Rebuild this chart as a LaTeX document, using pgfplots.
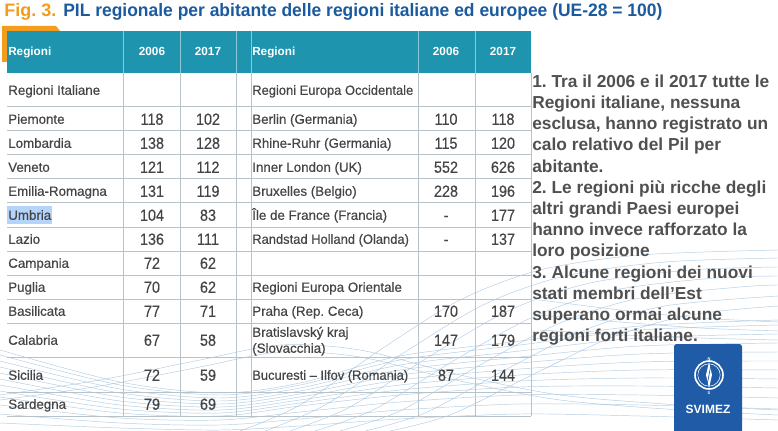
\documentclass[border=0pt]{standalone}
\usepackage{pgfplots}
\pgfplotsset{compat=1.18}
\usepackage{pgfplotstable}
\usepackage{fontspec}
\setmainfont{Liberation Sans}
\newfontfamily\medfont[FakeBold=0.45]{Liberation Sans}
\frenchspacing
\definecolor{titleblue}{HTML}{1B5A9E}
\definecolor{figorange}{HTML}{F39C1E}
\definecolor{hdrteal}{HTML}{1E94AE}
\definecolor{hdrline}{HTML}{8CC8D6}
\definecolor{gridc}{HTML}{B7C2C9}
\definecolor{txt}{HTML}{454545}
\definecolor{notegray}{HTML}{505050}
\definecolor{logoblue}{HTML}{1F5BA6}
\definecolor{hilite}{HTML}{B4D4FB}
\definecolor{wavec}{HTML}{9FBFDB}

% Italian regions: row centre (px), 2006, 2017
\pgfplotstableread{
y  a   b
119 118 102
143 138 128
167 121 112
191 131 119
215 104 83
239 136 111
263 72  62
287 70  62
311 77  71
340 67  58
375 72  59
404 79  69
}\itadata
% European regions: row centre (px), 2006, 2017
\pgfplotstableread{
y  a   b
119 110 118
143 115 120
167 552 626
191 228 196
215 -   177
239 -   137
311 170 187
340 147 179
375 87  144
}\eudata

\begin{document}
\begin{tikzpicture}
\begin{axis}[
  width=583.5pt, height=323.25pt, scale only axis,
  xmin=0, xmax=778, ymin=0, ymax=431, y dir=reverse,
  axis lines=none, clip=true,
  numcol/.style={draw=none, mark=none, point meta=explicit symbolic,
    nodes near coords={\scalebox{1}[1.12]{\pgfplotspointmeta}},
    every node near coord/.style={anchor=center, inner sep=0pt, text height=8.66pt, text depth=0pt, text=txt, font=\medfont\fontsize{10.8}{12}\selectfont}},
  wave/.style={wavec, line width=0.35pt, opacity=0.8, smooth, mark=none, forget plot},
]
% background waves
\addplot[wave] coordinates {(0,350) (120,382) (220,393) (300,383) (400,356) (520,341) (640,326) (778,320)};
\addplot[wave] coordinates {(0,355) (120,385) (220,395) (300,385) (400,360) (520,345) (640,330) (778,325)};
\addplot[wave] coordinates {(0,361) (120,389) (220,398) (300,388) (400,365) (520,351) (640,338) (778,334)};
\addplot[wave] coordinates {(0,367) (120,393) (220,401) (300,391) (400,370) (520,357) (640,346) (778,343)};
\addplot[wave] coordinates {(0,373) (120,397) (220,404) (300,394) (400,375) (520,363) (640,354) (778,352)};
\addplot[wave] coordinates {(0,379) (120,401) (220,407) (300,397) (400,380) (520,369) (640,362) (778,361)};
\addplot[wave] coordinates {(0,385) (120,405) (220,410) (300,400) (400,385) (520,375) (640,370) (778,370)};
\addplot[wave] coordinates {(0,391) (120,409) (220,413) (300,403) (400,390) (520,381) (640,378) (778,379)};
\addplot[wave] coordinates {(0,397) (120,413) (220,416) (300,406) (400,395) (520,387) (640,386) (778,388)};
\addplot[wave] coordinates {(0,405) (120,418) (220,420) (300,412) (400,402) (520,395) (640,395) (778,398)};
\addplot[wave] coordinates {(0,414) (120,423) (220,425) (300,419) (400,410) (520,404) (640,405) (778,409)};
\addplot[wave] coordinates {(0,423) (120,428) (220,430) (300,426) (400,419) (520,414) (640,416) (778,420)};
\addplot[wave] coordinates {(0,395) (100,380) (200,360) (280,345) (360,350) (460,375) (560,395) (680,405) (778,410)};
\addplot[wave] coordinates {(0,400) (100,386) (200,367) (280,352) (360,357) (460,381) (560,400) (680,410) (778,415)};
\addplot[wave] coordinates {(240,431) (300,405) (380,350) (460,300) (540,270) (640,255) (778,250)};
\addplot[wave] coordinates {(265,431) (325,405) (405,352) (485,304) (565,276) (665,262) (778,258)};
\addplot[wave] coordinates {(290,431) (350,407) (430,356) (510,310) (590,283) (690,270) (778,267)};
\addplot[wave] coordinates {(315,431) (375,409) (455,360) (535,316) (615,290) (715,278) (778,276)};
\addplot[wave] coordinates {(340,431) (400,411) (480,365) (560,323) (640,298) (740,287) (778,285)};
\addplot[wave] coordinates {(365,431) (425,413) (505,370) (585,330) (665,306) (778,296)};
\addplot[wave] coordinates {(390,431) (450,415) (530,376) (610,338) (690,315) (778,306)};
\addplot[wave] coordinates {(540,300) (620,310) (700,318) (778,322)};
\addplot[wave] coordinates {(540,315) (620,322) (700,328) (778,331)};
\addplot[wave] coordinates {(540,330) (620,335) (700,338) (778,340)};

% header
\fill[figorange] (axis cs:2,26) -- (axis cs:56,26) -- (axis cs:60,31) -- (axis cs:60,62) -- (axis cs:2,62) -- cycle;
\fill[hdrteal] (axis cs:7,31) rectangle (axis cs:531,73);
\pgfplotsinvokeforeach{123,180,236,251,418,475}{
  \draw[hdrline, line width=0.75pt] (axis cs:#1,31) -- (axis cs:#1,73);
}
% Umbria highlight
\fill[hilite] (axis cs:7,206) rectangle (axis cs:52,224);
% grid
\pgfplotsinvokeforeach{123,180,236,251,418,475,531}{
  \draw[gridc, line width=0.75pt] (axis cs:#1,73) -- (axis cs:#1,416);
}
\pgfplotsinvokeforeach{107,131,155,179,203,227,251,275,299,323,357,392,416}{
  \draw[gridc, line width=0.75pt] (axis cs:7,#1) -- (axis cs:531,#1);
}

% title
\node[anchor=base west, inner sep=0pt, text=figorange, font=\fontsize{13.5}{15}\selectfont\bfseries] at (axis cs:4,17) {Fig. 3.};
\node[anchor=base west, inner sep=0pt, text=titleblue, font=\fontsize{13.5}{15}\selectfont\bfseries] at (axis cs:63,17) {\scalebox{0.97}[1]{PIL regionale per abitante delle regioni italiane ed europee (UE-28 = 100)}};

% header labels
\begin{scope}[every node/.style={inner sep=0pt, text=white, font=\fontsize{8.8}{10}\selectfont\bfseries}]
\node[anchor=base west] at (axis cs:8,56) {Regioni};
\node[anchor=base] at (axis cs:152,56) {2006};
\node[anchor=base] at (axis cs:208,56) {2017};
\node[anchor=base west] at (axis cs:252,56) {Regioni};
\node[anchor=base] at (axis cs:446,56) {2006};
\node[anchor=base] at (axis cs:503,56) {2017};
\end{scope}

% region names
\begin{scope}[every node/.style={anchor=base west, inner sep=0pt, text=txt, font=\medfont\fontsize{10}{11.6}\selectfont}]
\node at (axis cs:8,94.8) {Regioni Italiane};
\node at (axis cs:8,123.8) {Piemonte};
\node at (axis cs:8,147.8) {Lombardia};
\node at (axis cs:8,171.8) {Veneto};
\node at (axis cs:8,195.8) {Emilia-Romagna};
\node at (axis cs:8,219.8) {Umbria};
\node at (axis cs:8,243.8) {Lazio};
\node at (axis cs:8,267.8) {Campania};
\node at (axis cs:8,291.8) {Puglia};
\node at (axis cs:8,315.8) {Basilicata};
\node at (axis cs:8,344.8) {Calabria};
\node at (axis cs:8,379.8) {Sicilia};
\node at (axis cs:8,408.8) {Sardegna};
\node at (axis cs:252,94.8) {\scalebox{0.97}[1]{Regioni Europa Occidentale}};
\node at (axis cs:252,123.8) {Berlin (Germania)};
\node at (axis cs:252,147.8) {Rhine-Ruhr (Germania)};
\node at (axis cs:252,171.8) {Inner London (UK)};
\node at (axis cs:252,195.8) {Bruxelles (Belgio)};
\node at (axis cs:252,219.8) {Île de France (Francia)};
\node at (axis cs:252,243.8) {\scalebox{0.97}[1]{Randstad Holland (Olanda)}};
\node at (axis cs:252,291.8) {Regioni Europa Orientale};
\node at (axis cs:252,315.8) {Praha (Rep. Ceca)};
\node at (axis cs:252,336.8) {Bratislavský kraj};
\node at (axis cs:252,352.8) {(Slovacchia)};
\node at (axis cs:252,379.8) {\scalebox{0.97}[1]{Bucuresti – Ilfov (Romania)}};
\end{scope}

% values
\addplot[numcol] table[x expr=152, y=y, meta=a] {\itadata};
\addplot[numcol] table[x expr=208, y=y, meta=b] {\itadata};
\addplot[numcol] table[x expr=446, y=y, meta=a] {\eudata};
\addplot[numcol] table[x expr=503, y=y, meta=b] {\eudata};

% side note
\node[anchor=north west, inner sep=0pt, align=left, text=notegray, font=\fontsize{13}{15.9}\selectfont\bfseries] at (axis cs:532,74.4)
{1. Tra il 2006 e il 2017 tutte le\\Regioni italiane, nessuna\\esclusa, hanno registrato un\\calo relativo del Pil per\\abitante.\\2. Le regioni più ricche degli\\altri grandi Paesi europei\\hanno invece rafforzato la\\loro posizione\\3. Alcune regioni dei nuovi\\stati membri dell’Est\\superano ormai alcune\\regioni forti italiane.};

% logo
\fill[logoblue, rounded corners=2pt] (axis cs:674,344) rectangle (axis cs:742,440);
\draw[white, line width=1.2pt] (axis cs:709,375) circle[radius=10.5pt];
\draw[white, line width=0.4pt] (axis cs:709,375) circle[radius=8.4pt];
\fill[white] (axis cs:709,362) -- (axis cs:712,375) -- (axis cs:709,388) -- (axis cs:706,375) -- cycle;
\draw[logoblue, line width=0.5pt] (axis cs:710.5,367) -- (axis cs:707.5,383);
\node[anchor=base, inner sep=0pt, text=white, font=\fontsize{3}{3}\selectfont\bfseries] at (axis cs:709,360) {N};
\node[anchor=base, inner sep=0pt, text=white, font=\fontsize{3}{3}\selectfont\bfseries] at (axis cs:709,394) {S};
\node[anchor=base, inner sep=0pt, text=white, font=\fontsize{9}{10}\selectfont\bfseries] at (axis cs:708,413) {SVIMEZ};
\end{axis}
\pgfresetboundingbox
\useasboundingbox (current axis.south west) rectangle (current axis.north east);
\end{tikzpicture}
\end{document}
